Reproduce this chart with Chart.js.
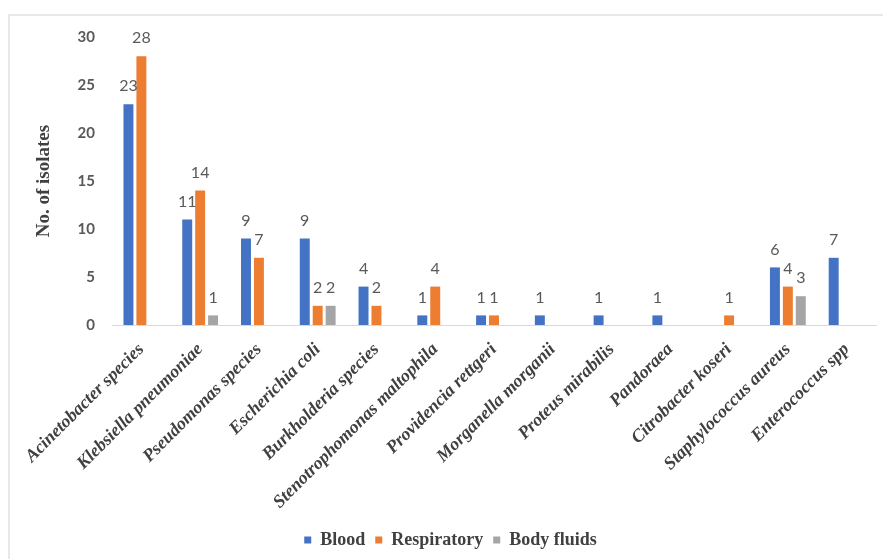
<!DOCTYPE html>
<html>
<head>
<meta charset="utf-8">
<script src="https://cdn.jsdelivr.net/npm/chart.js@4/dist/chart.umd.min.js"></script>
<style>
  html, body { margin: 0; padding: 0; background: #ffffff; }
  #wrap { position: relative; width: 883px; height: 559px; overflow: hidden; }
  #frame { position: absolute; left: 8px; top: 14px; width: 900px; height: 600px;
           border-top: 2px solid #e8e8e8; border-left: 2px solid #e8e8e8; pointer-events: none; }
  canvas { position: absolute; left: 0; top: 0; }
</style>
</head>
<body>
<div id="wrap">
  <canvas id="chart" width="883" height="559"></canvas>
  <div id="frame"></div>
</div>
<script>
// Isolates by organism and specimen source
const organisms = [
  "Acinetobacter species", "Klebsiella pneumoniae", "Pseudomonas species",
  "Escherichia coli", "Burkholderia species", "Stenotrophomonas maltophila",
  "Providencia rettgeri", "Morganella morganii", "Proteus mirabilis",
  "Pandoraea", "Citrobacter koseri", "Staphylococcus aureus", "Enterococcus spp"
];
const blood       = [23, 11, 9, 9, 4, 1, 1, 1, 1, 1, 0, 6, 7];
const respiratory = [28, 14, 7, 2, 2, 4, 1, 0, 0, 0, 1, 4, 0];
const bodyFluids  = [0, 1, 0, 2, 0, 0, 0, 0, 0, 0, 0, 3, 0];
const seriesNames = ["Blood", "Respiratory", "Body fluids"];
const yTicks = [0, 5, 10, 15, 20, 25, 30];

const serif = '"Liberation Serif", "Times New Roman", serif';
const sans = 'Lato, "Open Sans", sans-serif';

// Value labels above every non-zero bar
const valueLabels = {
  id: 'valueLabels',
  afterDatasetsDraw(chart) {
    const ctx = chart.ctx;
    ctx.save();
    ctx.font = '16px ' + sans;
    ctx.fillStyle = '#595959';
    ctx.textAlign = 'center';
    ctx.textBaseline = 'bottom';
    chart.data.datasets.forEach((ds, di) => {
      const meta = chart.getDatasetMeta(di);
      meta.data.forEach((bar, i) => {
        const v = ds.data[i];
        if (v > 0) ctx.fillText(String(v), bar.x, bar.y - 10);
      });
    });
    ctx.restore();
  }
};

new Chart(document.getElementById('chart'), {
  type: 'bar',
  data: {
    labels: organisms,
    datasets: [
      { label: seriesNames[0], data: blood, backgroundColor: '#4472C4' },
      { label: seriesNames[1], data: respiratory, backgroundColor: '#ED7D31' },
      { label: seriesNames[2], data: bodyFluids, backgroundColor: '#A5A5A5' }
    ]
  },
  options: {
    responsive: false,
    animation: false,
    devicePixelRatio: 1,
    layout: { padding: { left: 25, right: 7, top: 37, bottom: 0 } },
    datasets: { bar: { categoryPercentage: 0.66, barPercentage: 0.77 } },
    plugins: {
      legend: {
        position: 'bottom',
        labels: {
          boxWidth: 7, boxHeight: 7, padding: 10,
          color: '#404040',
          font: { family: serif, size: 18, weight: 'bold' }
        }
      },
      tooltip: { enabled: false }
    },
    scales: {
      x: {
        grid: { display: false },
        border: { display: true, color: '#d9d9d9', width: 1 },
        ticks: {
          minRotation: 45, maxRotation: 45, padding: 6,
          color: '#404040',
          font: { family: serif, size: 18, weight: 'bold', style: 'italic' }
        },
        afterFit(scale) { scale.height = 196; }
      },
      y: {
        min: 0, max: 30,
        afterBuildTicks(scale) { scale.ticks = yTicks.map(v => ({ value: v })); },
        grid: { display: false },
        border: { display: false },
        ticks: {
          padding: 9,
          color: '#595959',
          font: { family: sans, size: 15, weight: 'bold' }
        },
        title: {
          display: true,
          text: 'No. of isolates',
          color: '#404040',
          padding: { top: 8, bottom: 0 },
          font: { family: serif, size: 19, weight: 'bold' }
        },
        afterFit(scale) { scale.width = 112 - 25; }
      }
    }
  },
  plugins: [valueLabels]
});
</script>
</body>
</html>
